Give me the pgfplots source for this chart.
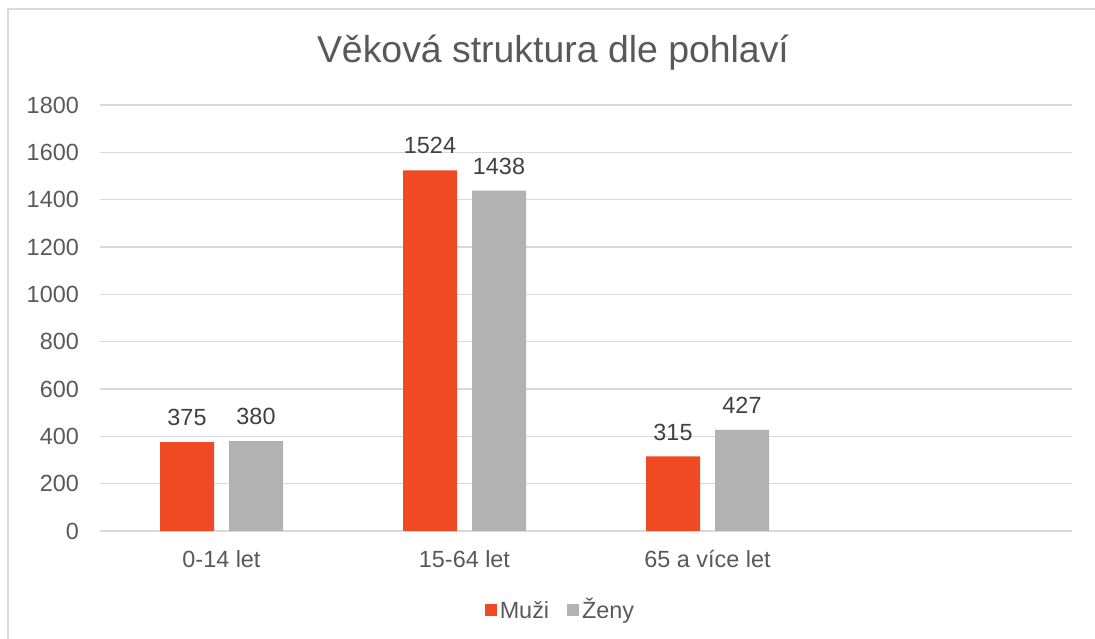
\documentclass[border=0pt]{standalone}
\usepackage{fontspec}
\setmainfont{Liberation Sans}
\usepackage{pgfplots}
\pgfplotsset{compat=1.18}
\definecolor{muzi}{HTML}{F04A24}
\definecolor{zeny}{HTML}{B2B2B2}
\definecolor{gridc}{HTML}{D9D9D9}
\definecolor{txt}{HTML}{595959}
\definecolor{lbl}{HTML}{404040}
\newcommand{\lf}{\fontsize{23.4}{28}\selectfont}
\begin{document}
\begin{tikzpicture}[x=1pt,y=1pt]
\useasboundingbox (0,0) rectangle (1095,639);
\fill[white] (0,0) rectangle (1095,639);
\draw[gridc, line width=1.5pt] (8,-5) -- (8,630) -- (1100,630);
\node[text=txt, font=\fontsize{37.4}{44}\selectfont, anchor=base, inner sep=0pt] at (553,576) {Věková struktura dle pohlaví};
\begin{axis}[
  at={(100pt,108pt)}, anchor=south west,
  scale only axis, width=972pt, height=426pt,
  xmin=-0.5, xmax=3.5, ymin=0, ymax=1800,
  ytick={0,200,...,1800},
  xtick={0,1,2}, xticklabels={0-14 let,15-64 let,65 a více let},
  axis line style={draw=none},
  major tick length=0pt,
  ymajorgrids, grid style={gridc, line width=1.4pt},
  tick label style={font=\lf, text=txt, inner sep=0pt},
  /pgf/number format/assume math mode=true,
  /pgf/number format/1000 sep={},
  xticklabel shift=19pt, yticklabel shift=21pt,
  ybar=15pt, bar width=54pt,
  nodes near coords,
  nodes near coords style={font=\lf, text=lbl, inner sep=0pt, anchor=south, yshift=16pt},
  legend columns=2,
  legend style={at={(0.4727,-0.1854)}, anchor=center, draw=none, fill=none, inner sep=0pt,
    font=\lf, text=txt,
    nodes={inner sep=0pt, text height=16.7pt, text depth=0pt},
    /tikz/every even column/.append style={column sep=18pt},
    /tikz/every odd column/.append style={column sep=3pt}},
  legend image code/.code={\fill[#1] (0pt,-6pt) rectangle (12pt,6pt);},
]
\addplot[fill=muzi, draw=none] coordinates {(0,375) (1,1524) (2,315)};
\addplot[fill=zeny, draw=none] coordinates {(0,380) (1,1438) (2,427)};
\legend{Muži, Ženy}
\end{axis}
\end{tikzpicture}
\end{document}
